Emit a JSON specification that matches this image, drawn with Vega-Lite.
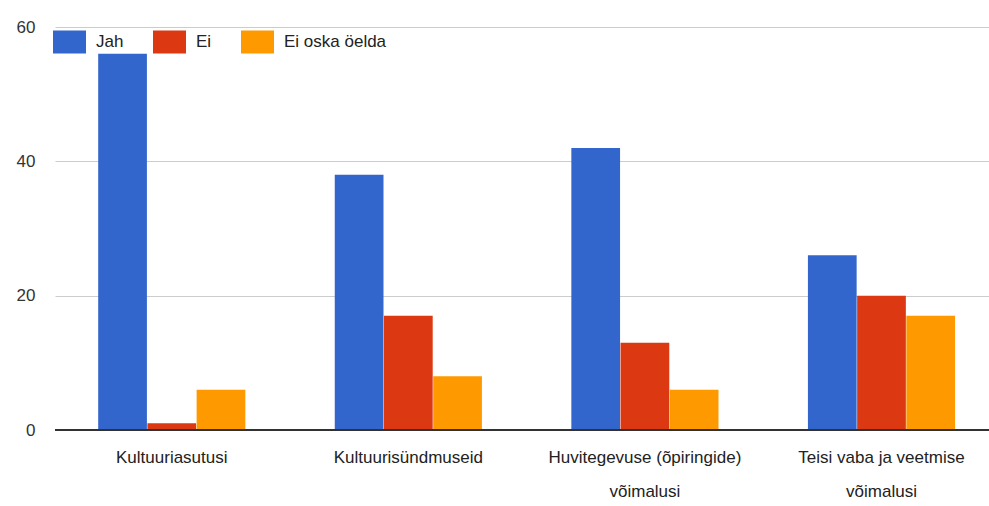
{
  "$schema": "https://vega.github.io/schema/vega-lite/v6.json",
  "width": 934,
  "height": 403,
  "autosize": {"type": "none"},
  "padding": {"left": 55, "top": 27, "right": 0, "bottom": 76},
  "background": "white",
  "config": {
    "font": "Liberation Sans",
    "view": {"stroke": null}
  },
  "data": {
    "values": [
      {"cat": "Kultuuriasutusi", "resp": "Jah", "n": 56},
      {"cat": "Kultuuriasutusi", "resp": "Ei", "n": 1},
      {"cat": "Kultuuriasutusi", "resp": "Ei oska öelda", "n": 6},
      {"cat": "Kultuurisündmuseid", "resp": "Jah", "n": 38},
      {"cat": "Kultuurisündmuseid", "resp": "Ei", "n": 17},
      {"cat": "Kultuurisündmuseid", "resp": "Ei oska öelda", "n": 8},
      {"cat": "Huvitegevuse (õpiringide) võimalusi", "resp": "Jah", "n": 42},
      {"cat": "Huvitegevuse (õpiringide) võimalusi", "resp": "Ei", "n": 13},
      {"cat": "Huvitegevuse (õpiringide) võimalusi", "resp": "Ei oska öelda", "n": 6},
      {"cat": "Teisi vaba ja veetmise võimalusi", "resp": "Jah", "n": 26},
      {"cat": "Teisi vaba ja veetmise võimalusi", "resp": "Ei", "n": 20},
      {"cat": "Teisi vaba ja veetmise võimalusi", "resp": "Ei oska öelda", "n": 17}
    ]
  },
  "layer": [
    {
      "mark": {"type": "bar"},
      "encoding": {
        "x": {
          "field": "cat",
          "type": "nominal",
          "sort": null,
          "scale": {"paddingInner": 0.378, "paddingOuter": 0.163, "align": 0.56},
          "axis": {
            "title": null,
            "labelAngle": 0,
            "ticks": false,
            "domain": false,
            "labelFontSize": 17,
            "labelColor": "#222",
            "labelPadding": 19,
            "labelLineHeight": 34,
            "labelLimit": 300,
            "labelExpr": "datum.label == 'Huvitegevuse (õpiringide) võimalusi' ? ['Huvitegevuse (õpiringide)', 'võimalusi'] : datum.label == 'Teisi vaba ja veetmise võimalusi' ? ['Teisi vaba ja veetmise', 'võimalusi'] : datum.label"
          }
        },
        "xOffset": {
          "field": "resp",
          "type": "nominal",
          "sort": ["Jah", "Ei", "Ei oska öelda"],
          "scale": {"paddingInner": 0.01}
        },
        "y": {
          "field": "n",
          "type": "quantitative",
          "scale": {"domain": [0, 60], "nice": false},
          "axis": {
            "title": null,
            "values": [0, 20, 40, 60],
            "ticks": false,
            "domain": false,
            "labelFontSize": 17,
            "labelColor": "#333",
            "labelPadding": 20,
            "gridColor": "#cccccc",
            "gridWidth": 1.2
          }
        },
        "color": {
          "field": "resp",
          "type": "nominal",
          "scale": {"domain": ["Jah", "Ei", "Ei oska öelda"], "range": ["#3366cc", "#dc3912", "#ff9900"]},
          "legend": {
            "title": null,
            "orient": "none",
            "legendX": -2,
            "legendY": -2,
            "direction": "horizontal",
            "symbolType": "M-1,-0.7H1V0.7H-1Z",
            "symbolSize": 1089,
            "symbolStrokeWidth": 0,
            "symbolOpacity": 1,
            "labelFontSize": 17,
            "labelColor": "#222",
            "labelOffset": 10,
            "columnPadding": 29,
            "padding": 0
          }
        }
      }
    },
    {
      "mark": {"type": "rule", "color": "#333333", "strokeWidth": 1.5},
      "encoding": {"y": {"datum": 0}}
    }
  ]
}
